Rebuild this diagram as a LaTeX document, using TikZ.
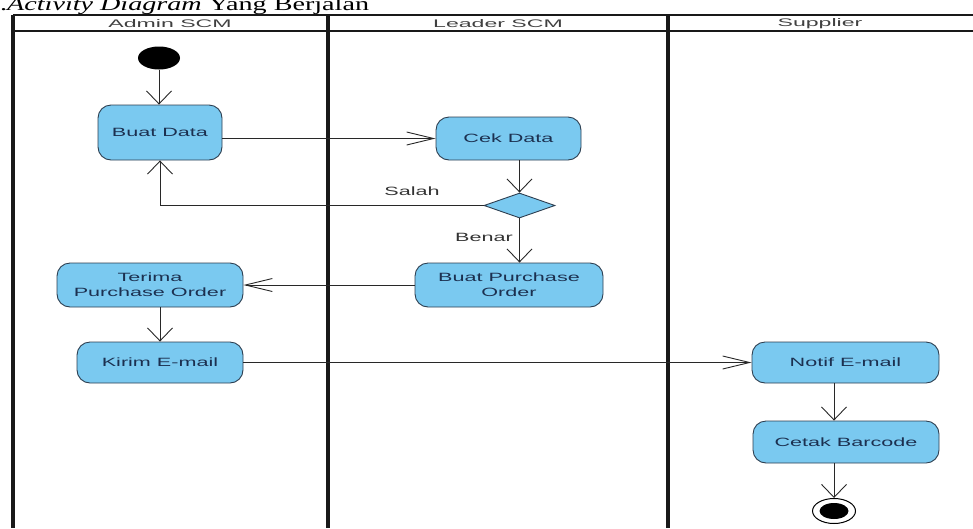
\documentclass[tikz,border=0pt]{standalone}
\usepackage{fontspec}
\setmainfont{Liberation Serif}
\newfontfamily\nodefont[FakeStretch=1.8]{Liberation Sans}
\newfontfamily\headfont[FakeStretch=2.1]{Liberation Sans}
\newfontfamily\titlefont[FakeStretch=1.48]{Liberation Serif}
\usetikzlibrary{arrows.meta,shapes.geometric}
\definecolor{actfill}{RGB}{122,201,240}
\definecolor{actdraw}{RGB}{45,62,80}
\definecolor{acttext}{RGB}{28,48,80}
\definecolor{linecol}{RGB}{40,40,40}
\tikzset{
  act/.style={draw=actdraw, fill=actfill, rounded corners=13pt, line width=0.9pt,
    inner sep=0pt, text=acttext, font=\nodefont\fontsize{12}{15}\selectfont, align=center},
  lane/.style={line width=3.2pt, draw=black!90},
  hline/.style={line width=2.4pt, draw=black!90},
  head/.style={font=\headfont\fontsize{11}{12}\selectfont, text=black!75, inner sep=0pt},
  lbl/.style={font=\nodefont\fontsize{12}{14}\selectfont, text=black!80, inner sep=0pt},
  flow/.style={draw=linecol, line width=0.9pt},
  vflow/.style={flow, -{Straight Barb[length=13pt,width=25pt,line width=0.9pt]}},
  hflow/.style={flow, -{Straight Barb[length=27pt,width=13pt,line width=0.9pt]}},
}
\begin{document}
\begin{tikzpicture}[x=1pt,y=-1pt]
\useasboundingbox (0,0) rectangle (973,528);
% title
\node[anchor=base west, inner sep=0pt, font=\titlefont\fontsize{19}{22}\selectfont] (title) at (0,10) {.\textit{Activity Diagram} Yang Berjalan};
% swimlane frame
\draw[hline] (13,15) -- (973,15);
\draw[hline] (13,31) -- (973,31);
\draw[lane] (13,15) -- (13,528);
\draw[lane] (328,15) -- (328,528);
\draw[lane] (668,15) -- (668,528);
\node[head] (h1) at (170,23.5) {Admin SCM};
\node[head] (h2) at (498,23.5) {Leader SCM};
\node[head] (h3) at (820,23.5) {Supplier};
% nodes
\node[ellipse, fill=black, minimum width=42pt, minimum height=23pt, inner sep=0pt] (init) at (159,58) {};
\node[act, minimum width=124pt, minimum height=55pt] (buat) at (160,132.5) {Buat Data};
\node[act, minimum width=145pt, minimum height=43pt] (cek) at (508.5,138.5) {Cek Data};
\node[diamond, draw=actdraw, fill=actfill, line width=0.9pt, minimum width=71pt, minimum height=25pt, inner sep=0pt] (dec) at (519.5,205.5) {};
\node[act, minimum width=188pt, minimum height=44pt] (bpo) at (509,285) {Buat Purchase\\Order};
\node[act, minimum width=186pt, minimum height=44pt] (terima) at (150,285) {Terima\\Purchase Order};
\node[act, minimum width=166pt, minimum height=41pt] (kirim) at (160,362.5) {Kirim E-mail};
\node[act, minimum width=187pt, minimum height=41pt] (notif) at (845.5,362.5) {Notif E-mail};
\node[act, minimum width=186pt, minimum height=42pt] (cetak) at (846,442) {Cetak Barcode};
\node[ellipse, draw=black, line width=1pt, fill=white, minimum width=43pt, minimum height=25pt, inner sep=0pt] (final) at (834,511) {};
\node[ellipse, fill=black, minimum width=29pt, minimum height=16pt, inner sep=0pt] (finalin) at (final.center) {};
% connectors
\draw[vflow] (init) -- (buat.north -| init);
\draw[hflow] (buat.east |- cek.west) -- (cek.west);
\draw[vflow] (cek.south -| dec.north) -- (dec.north);
\draw[vflow] (dec.west) -- (buat.south |- dec.west) -- (buat.south);
\draw[vflow] (dec.south) -- (dec.south |- bpo.north);
\draw[hflow] (bpo.west) -- (terima.east);
\draw[vflow] (terima.south -| kirim.north) -- (kirim.north);
\draw[hflow] (kirim.east) -- (notif.west);
\draw[vflow] (notif.south -| final) -- (cetak.north -| final);
\draw[vflow] (cetak.south -| final) -- (final.north);
% labels
\node[lbl] (salah) at (412,191) {Salah};
\node[lbl] (benar) at (484,237.5) {Benar};
\end{tikzpicture}
\end{document}
